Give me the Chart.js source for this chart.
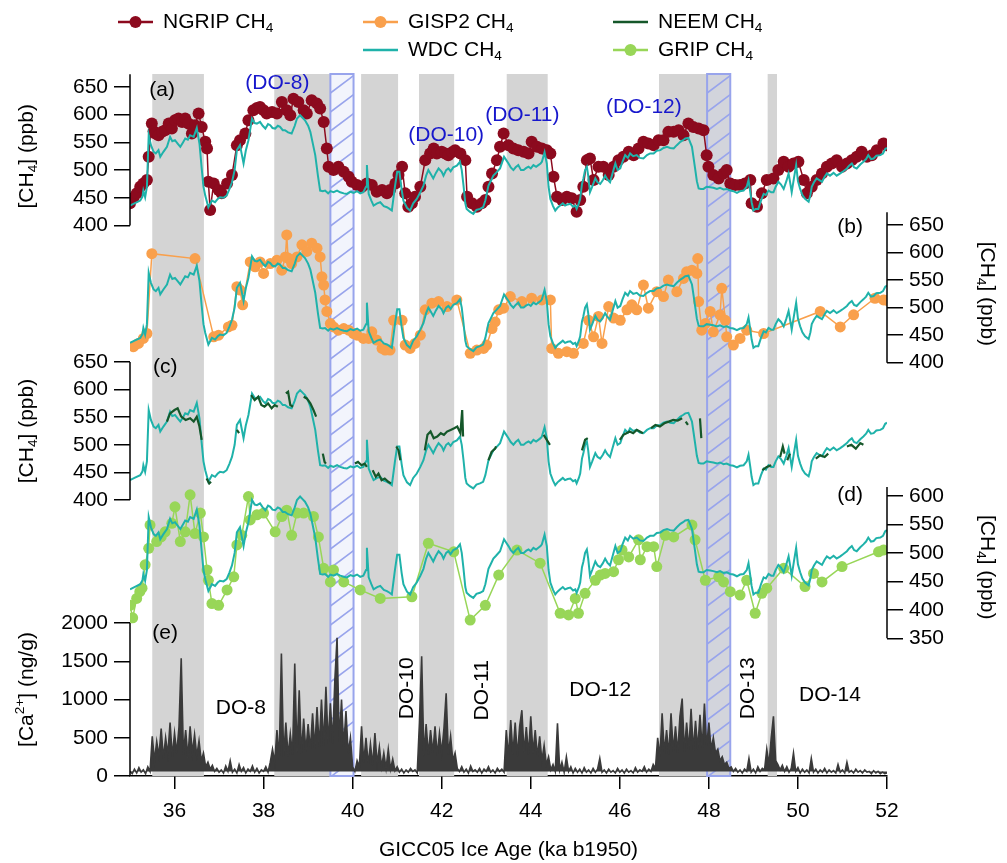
<!DOCTYPE html>
<html>
<head>
<meta charset="utf-8">
<script src="https://cdn.jsdelivr.net/npm/chart.js@4.4.1/dist/chart.umd.min.js"></script>
<style>
  html, body { margin: 0; padding: 0; background: #fff; }
  #wrap { width: 1007px; height: 863px; }
</style>
</head>
<body>
<div id="wrap"><canvas id="myChart"></canvas></div>
<script>
// ---- data (ka b1950 / ppb / ng/g) ----
const xTicks = [36, 38, 40, 42, 44, 46, 48, 50, 52];
const ch4Ticks = [400, 450, 500, 550, 600, 650];
const gripTicks = [350, 400, 450, 500, 550, 600];
const caTicks = [0, 500, 1000, 1500, 2000];

const giBands = [[35.50, 36.66], [38.24, 39.50], [40.19, 41.02], [41.49, 42.28], [43.46, 44.38], [46.88, 48.48], [49.32, 49.53]];
const hatchBands = [[39.50, 40.02], [47.96, 48.48]];

const wdcAge = [35.00,35.10,35.23,35.28,35.30,35.34,35.38,35.42,35.47,35.53,35.58,35.64,35.68,35.75,35.83,35.90,35.95,36.01,36.07,36.13,36.19,36.24,36.30,36.35,36.43,36.50,36.56,36.61,36.65,36.69,36.76,36.84,36.91,36.97,37.02,37.10,37.17,37.23,37.29,37.35,37.40,37.47,37.55,37.60,37.66,37.74,37.80,37.85,37.92,37.98,38.04,38.10,38.15,38.20,38.26,38.32,38.37,38.43,38.48,38.55,38.63,38.70,38.75,38.82,38.88,38.93,39.00,39.05,39.10,39.16,39.22,39.27,39.33,39.38,39.45,39.50,39.57,39.65,39.72,39.80,39.87,39.95,40.02,40.10,40.17,40.24,40.30,40.32,40.36,40.42,40.47,40.55,40.62,40.70,40.77,40.83,40.88,40.95,41.00,41.05,41.10,41.14,41.22,41.29,41.36,41.44,41.52,41.59,41.65,41.70,41.76,41.81,41.87,41.93,42.00,42.04,42.10,42.15,42.20,42.26,42.34,42.41,42.45,42.49,42.53,42.56,42.63,42.71,42.78,42.86,42.93,42.98,43.05,43.10,43.16,43.22,43.31,43.40,43.45,43.50,43.55,43.61,43.66,43.72,43.78,43.84,43.90,43.95,44.00,44.06,44.12,44.17,44.22,44.25,44.31,44.36,44.40,44.44,44.50,44.55,44.60,44.66,44.72,44.77,44.83,44.89,44.95,45.00,45.03,45.08,45.11,45.15,45.18,45.22,45.26,45.29,45.33,45.38,45.45,45.50,45.56,45.62,45.67,45.72,45.78,45.84,45.90,45.95,46.01,46.06,46.12,46.18,46.23,46.30,46.38,46.45,46.53,46.61,46.68,46.76,46.83,46.91,46.98,47.06,47.13,47.21,47.28,47.36,47.42,47.47,47.54,47.58,47.62,47.66,47.69,47.73,47.77,47.82,47.88,47.95,48.03,48.10,48.18,48.25,48.33,48.40,48.48,48.55,48.63,48.70,48.78,48.85,48.89,48.93,48.96,49.00,49.05,49.11,49.17,49.23,49.28,49.34,49.40,49.45,49.50,49.56,49.62,49.68,49.74,49.79,49.83,49.86,49.91,49.96,50.00,50.05,50.10,50.16,50.24,50.28,50.31,50.36,50.42,50.48,50.54,50.60,50.65,50.72,50.80,50.87,50.95,51.02,51.10,51.15,51.21,51.26,51.32,51.40,51.47,51.53,51.58,51.64,51.70,51.76,51.85,51.91,51.96,52.00];
const wdcCh4 = [436,440,445,452,463,451,470,563,545,533,530,536,524,533,542,560,552,554,548,542,550,557,555,563,560,576,548,503,470,454,433,445,442,448,451,450,454,465,478,500,536,545,512,535,554,593,585,584,587,580,575,583,581,576,575,580,578,572,572,568,566,580,593,599,594,590,580,569,550,527,490,463,462,463,458,462,460,463,460,458,457,461,459,462,458,460,470,509,457,445,436,440,442,435,433,430,427,470,497,497,465,445,432,427,440,448,460,472,490,500,492,485,495,503,497,490,500,503,498,505,508,515,500,472,440,430,425,421,428,430,433,445,472,480,490,495,503,524,518,512,505,500,505,509,500,500,504,506,503,509,506,509,512,515,532,512,470,448,435,427,432,436,440,436,438,439,434,436,430,440,448,475,484,500,506,490,460,470,485,478,475,482,490,483,478,495,512,500,503,515,527,522,530,525,527,522,521,527,530,530,535,536,540,542,540,539,545,551,554,557,558,550,542,520,503,480,467,466,466,470,469,468,466,468,465,466,463,462,459,462,463,470,482,460,442,427,430,430,445,457,455,463,460,460,470,479,474,466,480,494,475,460,485,509,480,466,455,448,443,455,470,478,485,482,479,488,494,490,495,490,494,498,503,508,512,505,503,510,515,520,527,520,521,526,527,530,538,540];

const ngripAge = [35.00,35.08,35.15,35.23,35.30,35.38,35.42,35.49,35.53,35.57,35.64,35.72,35.79,35.87,35.94,36.01,36.09,36.17,36.24,36.31,36.39,36.46,36.54,36.61,36.69,36.73,36.76,36.80,36.88,36.99,37.06,37.18,37.29,37.40,37.47,37.59,37.66,37.77,37.85,37.92,38.00,38.07,38.19,38.30,38.41,38.52,38.60,38.67,38.78,38.90,38.97,39.08,39.20,39.27,39.35,39.42,39.46,39.57,39.68,39.80,39.91,39.98,40.10,40.21,40.32,40.43,40.54,40.66,40.77,40.84,40.96,41.03,41.11,41.18,41.25,41.33,41.40,41.52,41.63,41.74,41.82,41.89,42.00,42.08,42.15,42.23,42.30,42.42,42.53,42.57,42.68,42.79,42.90,42.98,43.05,43.13,43.24,43.31,43.39,43.50,43.61,43.72,43.84,43.95,44.02,44.14,44.25,44.36,44.44,44.51,44.59,44.70,44.81,44.92,45.03,45.11,45.18,45.26,45.33,45.41,45.52,45.63,45.75,45.86,45.97,46.08,46.20,46.31,46.42,46.53,46.64,46.76,46.87,46.98,47.09,47.21,47.32,47.43,47.54,47.65,47.77,47.88,47.95,47.99,48.10,48.22,48.33,48.40,48.48,48.59,48.70,48.81,48.93,48.96,49.08,49.19,49.30,49.45,49.56,49.68,49.79,49.90,50.01,50.13,50.20,50.31,50.42,50.54,50.65,50.76,50.87,50.99,51.10,51.21,51.32,51.43,51.55,51.66,51.77,51.92,51.99];
const ngripCh4 = [440,450,458,470,476,482,524,584,570,566,563,569,572,584,575,590,593,587,593,584,566,581,602,578,551,539,479,428,476,464,458,476,491,545,554,566,590,608,612,614,608,602,605,602,623,608,599,629,623,608,602,626,620,611,587,539,506,500,506,497,488,479,473,470,476,473,461,464,458,464,476,491,506,458,434,440,452,470,518,530,539,530,533,530,527,532,536,530,518,452,440,434,440,446,470,494,518,542,566,545,539,536,533,530,551,542,539,536,530,488,452,446,452,449,425,446,470,518,521,482,506,506,491,506,518,524,533,527,539,551,548,545,554,554,569,569,572,563,584,578,575,572,527,506,491,485,494,500,476,473,473,476,482,440,434,458,482,485,500,515,506,512,515,482,458,470,482,494,506,512,518,506,512,518,524,533,524,527,536,548,545];

const gisp2Age = [35.08,35.19,35.30,35.38,35.49,36.46,36.88,36.99,37.21,37.29,37.40,37.47,37.53,37.70,37.81,37.92,38.00,38.15,38.30,38.41,38.49,38.52,38.55,38.63,38.75,38.86,38.97,39.08,39.20,39.27,39.31,39.35,39.38,39.42,39.50,39.57,39.68,39.80,39.91,40.02,40.10,40.24,40.36,40.43,40.54,40.66,40.73,40.84,40.92,41.11,41.18,41.29,41.40,41.52,41.63,41.78,41.93,42.12,42.34,42.64,42.79,42.94,43.01,43.13,43.20,43.28,43.39,43.54,43.80,44.02,44.25,44.44,44.47,44.62,44.81,44.96,45.18,45.30,45.41,45.52,45.60,45.75,45.86,46.01,46.16,46.27,46.38,46.53,46.64,46.83,46.98,47.09,47.28,47.43,47.50,47.62,47.73,47.75,47.77,47.84,47.92,48.03,48.10,48.25,48.29,48.37,48.40,48.55,48.70,48.85,49.23,50.50,50.95,51.25,51.73,51.92,52.00];
const gisp2Ch4 = [429,435,444,453,598,589,447,450,465,468,538,532,505,583,574,583,562,580,586,568,592,632,590,580,592,614,602,617,608,592,556,541,514,493,471,465,459,462,459,453,450,444,444,456,441,426,423,423,477,477,432,426,435,450,496,508,511,502,514,417,423,426,432,462,474,496,499,520,511,517,514,514,426,417,420,417,435,477,447,484,435,502,481,477,496,505,496,541,499,529,520,550,529,553,565,568,562,589,511,459,471,493,456,487,535,477,447,432,444,459,453,493,465,487,517,514,513];

const neemAge = [35.83,35.90,36.00,36.07,36.15,36.25,36.35,36.43,36.50,36.56,36.61,36.66, 36.72,36.78,36.82,36.9, 37.40,37.45,37.5, 37.72,37.80,37.88,37.95,38.02,38.10,38.18,38.25,38.32,38.4, 38.50,38.55,38.60,38.66,38.7, 38.90,38.97,39.05,39.12,39.18,39.25, 39.33,39.37,39.40,39.45, 40.05,40.12,40.20,40.27,40.32,40.38, 40.45,40.52,40.58,40.65,40.72,40.80,40.86,40.92, 40.98,41.03,41.07,41.3, 41.62,41.68,41.75,41.82,41.90,41.98,42.05,42.12,42.20,42.28,42.35,42.42,42.46,42.48,42.6, 43.05,43.12,43.20,43.22,43.3, 44.29,44.36,44.43,44.5, 45.15,45.22,45.28,45.5, 46.00,46.08,46.15,46.22,46.30,46.38,46.45,46.52,46.6, 46.70,46.80,46.90,47.00,47.10,47.20,47.30,47.40,47.44, 47.48,47.53,47.6, 47.80,47.83,48.0, 49.20,49.30,49.40,49.5, 49.60,49.66,49.70,49.73, 49.76,49.82,50.0, 50.40,50.50,50.60,50.68,50.9, 51.10,51.20,51.30,51.40,51.47];
const neemCh4 = [542,557,563,566,551,545,548,542,551,533,509,null, 439,430,433,null, 527,521,null, 590,581,587,572,569,575,566,572,569,null, 593,596,572,569,null, 587,584,575,563,551,null, 484,469,466,null, 466,469,463,466,460,null, 454,442,448,436,439,433,430,null, 497,490,472,null, 490,518,524,512,515,521,518,524,527,530,533,521,563,515,null, 472,487,493,497,null, 518,509,500,null, 490,509,512,null, 509,518,521,524,521,527,524,521,null, 530,536,533,539,542,545,544,548,null, 542,536,null, 548,512,null, 454,460,463,null, 478,497,484,null, 472,484,null, 475,481,478,484,null, 497,500,493,503,500];

const gripAge = [35.00,35.06,35.15,35.22,35.27,35.34,35.42,35.45,35.60,35.70,35.79,35.94,36.01,36.13,36.24,36.35,36.46,36.58,36.65,36.73,36.76,36.84,36.99,37.18,37.33,37.40,37.51,37.66,37.70,37.85,38.00,38.26,38.41,38.52,38.63,38.75,38.90,39.12,39.23,39.35,39.50,39.57,39.80,40.17,40.62,41.33,41.70,42.27,42.64,42.98,43.28,43.69,44.21,44.66,44.85,45.00,45.07,45.22,45.45,45.56,45.67,45.86,45.97,46.05,46.20,46.42,46.46,46.61,46.76,46.83,47.02,47.21,47.62,47.69,47.92,48.22,48.33,48.48,48.70,48.85,49.04,49.19,49.30,49.68,50.16,50.35,50.54,50.99,51.81,51.92];
const gripCh4 = [408,386,420,432,438,479,508,549,520,528,537,552,581,520,537,602,534,570,528,470,452,411,408,435,458,514,531,599,558,567,570,537,564,575,531,570,570,564,528,473,449,470,449,435,420,423,517,502,382,408,461,505,482,394,391,420,394,429,452,461,464,467,488,505,493,523,488,511,511,476,531,528,549,523,452,458,449,432,426,452,394,429,438,473,441,464,449,476,502,505];

// Ca2+ every 0.05 ka from 35.00 ka, one row per ka
const caStartAge = 35.0;
const caStep = 0.05;
const caValues = [
  60,30,90,40,110,50,80,30,120,60, 520,200,450,260,620,230,500,280,700,250,
  560,300,640,1540,280,600,240,650,300,540, 260,460,200,300,120,180,90,140,60,100,
  50,80,40,130,60,200,50,90,40,150, 60,110,40,90,60,130,50,100,40,80,
  60,120,50,180,350,180,600,220,1600,250, 700,260,550,280,1470,300,1120,290,750,320,
  680,340,820,360,900,380,1000,400,1165,420, 950,430,1250,1808,450,1000,380,850,300,500,
  120,60,200,120,650,180,500,150,420,140, 560,160,380,120,300,100,350,90,220,70,
  120,50,90,40,80,50,100,60,80,40, 700,1565,260,680,280,600,300,650,270,560,
  300,620,1080,280,520,200,300,100,60,120, 50,90,40,130,60,80,50,100,40,90,
  60,120,50,80,40,100,60,90,50,600, 250,730,280,700,260,650,860,300,640,280,
  780,300,600,250,520,200,400,150,250,80, 150,60,690,80,180,50,250,60,120,40,
  100,50,90,40,110,50,80,40,100,50, 90,230,50,80,40,90,50,70,40,100,
  50,80,40,90,50,70,40,110,50,80, 60,120,50,90,60,150,100,500,250,820,
  300,600,280,820,320,650,300,780,1013,320, 700,340,880,330,720,350,800,360,948,380,
  700,350,500,300,350,200,250,150,180,100, 120,60,100,50,80,40,90,60,230,50,
  90,40,120,60,100,80,350,150,500,780, 200,150,80,140,60,120,50,100,300,60,
  110,40,90,50,80,40,230,50,90,40, 80,50,100,40,80,50,70,40,150,50,
  80,40,180,50,70,40,90,50,70,40, 80,50,60,30,70,40,60,30,50,30,
  40
];

const doBlueText = ['(DO-8)', '(DO-10)', '(DO-11)', '(DO-12)'];
const doBlueAge = [38.31, 42.10, 43.81, 46.54];
const doBlueCh4 = [657, 563, 599, 614];

const doCaText = ['DO-8', 'DO-10', 'DO-11', 'DO-12', 'DO-13', 'DO-14'];
const doCaAge = [37.49, 41.22, 42.90, 45.56, 48.89, 50.72];
const doCaLevel = [887, 1147, 1121, 1121, 1147, 1056];
const doCaUpright = [true, false, false, true, false, true];

// ---- look ----
const FONT = "'Liberation Sans', Arial, Helvetica, sans-serif";
const FS = 21;
const C = {
  wdc: '#1fb2aa', ngrip: '#8c0a1e', gisp2: '#f9a04c', neem: '#15572a',
  grip: '#98d658', ca: '#3a3a3a', band: '#d4d4d4', hatch: '#98a4ec', blue: '#1717cc'
};

// pixel anchors of each panel inside the 74..776 plotting strip
const AREA_TOP = 74, AREA_BOTTOM = 776;
const panels = {
  ya: { pos: 'left',  lo: [400, 225.5], hi: [650, 87],  ticks: ch4Ticks,  spine: [400, 673] },
  yb: { pos: 'right', lo: [400, 362.7], hi: [650, 225], ticks: ch4Ticks,  spine: [400, 673] },
  yc: { pos: 'left',  lo: [400, 500],   hi: [650, 362], ticks: ch4Ticks,  spine: [400, 650] },
  yd: { pos: 'right', lo: [350, 638.3], hi: [600, 496], ticks: gripTicks, spine: [350, 616] },
  ye: { pos: 'left',  lo: [0, 776],     hi: [2000, 623], ticks: caTicks,  spine: [0, 2000] }
};

function pts(xs, ys) { return xs.map((x, i) => ({ x: x, y: ys[i] })); }
const caAge = caValues.map((v, i) => +(caStartAge + i * caStep).toFixed(2));

const scales = {
  x: {
    type: 'linear', position: 'bottom', min: 35, max: 52,
    afterBuildTicks: s => { s.ticks = xTicks.map(v => ({ value: v })); },
    afterFit: s => { s.height = 863 - AREA_BOTTOM; },
    border: { display: true, color: '#000', width: 1.5 },
    grid: { drawOnChartArea: false, drawTicks: true, tickLength: 13, color: '#000', lineWidth: 1.5 },
    ticks: { color: '#000', font: { size: FS }, padding: 10, autoSkip: false, maxRotation: 0, callback: v => String(v) },
    title: { display: true, text: 'GICC05 Ice Age (ka b1950)', color: '#000', font: { size: FS }, padding: { top: 0, bottom: 0 } }
  }
};
for (const id in panels) {
  const p = panels[id];
  const s = (p.lo[1] - p.hi[1]) / (p.hi[0] - p.lo[0]);
  scales[id] = {
    type: 'linear', position: p.pos,
    min: p.lo[0] - (AREA_BOTTOM - p.lo[1]) / s,
    max: p.lo[0] + (p.lo[1] - AREA_TOP) / s,
    afterBuildTicks: sc => { sc.ticks = p.ticks.map(v => ({ value: v })); },
    afterFit: sc => { sc.width = 0; },
    border: { display: false },
    grid: { drawOnChartArea: false, drawTicks: true, tickLength: 16, color: '#000', lineWidth: 1.5 },
    ticks: { color: '#000', font: { size: FS }, padding: 6, autoSkip: false, callback: v => String(v) }
  };
}

function ds(label, axis, data, color, order, extra) {
  return Object.assign({
    label: label, yAxisID: axis, data: data, order: order,
    borderColor: color, backgroundColor: color, borderWidth: 2,
    pointRadius: 0, pointBorderWidth: 0, tension: 0, spanGaps: false
  }, extra || {});
}
const dots = { pointRadius: 6, borderWidth: 1.5 };

const datasets = [
  ds('WDC CH4', 'ya', pts(wdcAge, wdcCh4), C.wdc, 1),
  ds('NGRIP CH4', 'ya', pts(ngripAge, ngripCh4), C.ngrip, 2, dots),
  ds('WDC CH4 b', 'yb', pts(wdcAge, wdcCh4), C.wdc, 1),
  ds('GISP2 CH4', 'yb', pts(gisp2Age, gisp2Ch4), C.gisp2, 2, { pointRadius: 5.5, borderWidth: 1.5 }),
  ds('NEEM CH4', 'yc', pts(neemAge, neemCh4), C.neem, 0, { borderWidth: 2.2 }),
  ds('WDC CH4 c', 'yc', pts(wdcAge, wdcCh4), C.wdc, 1),
  ds('WDC CH4 d', 'yd', pts(wdcAge, wdcCh4), C.wdc, 1),
  ds('GRIP CH4', 'yd', pts(gripAge, gripCh4), C.grip, 2, { pointRadius: 5.5, borderWidth: 1.5 }),
  ds('Ca2+', 'ye', pts(caAge, caValues), C.ca, 3, { borderWidth: 1.6, fill: { value: 60 } })
];

// ---- text helpers ----
function partsWidth(ctx, parts, size) {
  let w = 0;
  for (const p of parts) {
    ctx.font = (p.s ? size * 0.65 : size) + 'px ' + FONT;
    w += ctx.measureText(p.t).width;
  }
  return w;
}
function drawParts(ctx, parts, x, y, size, align) {
  const w = partsWidth(ctx, parts, size);
  let cx = align === 'center' ? x - w / 2 : (align === 'right' ? x - w : x);
  ctx.textAlign = 'left';
  ctx.textBaseline = 'middle';
  for (const p of parts) {
    const sz = p.s ? size * 0.65 : size;
    ctx.font = sz + 'px ' + FONT;
    const dy = p.s === 'sub' ? size * 0.32 : (p.s === 'sup' ? -size * 0.3 : 0);
    ctx.fillText(p.t, cx, y + dy);
    cx += ctx.measureText(p.t).width;
  }
}
const ch4Title = [{ t: '[CH' }, { t: '4', s: 'sub' }, { t: '] (ppb)' }];
const caTitle = [{ t: '[Ca' }, { t: '2+', s: 'sup' }, { t: '] (ng/g)' }];
const ch4Name = name => [{ t: name + ' CH' }, { t: '4', s: 'sub' }];

const legendItems = [
  { name: 'NGRIP', color: C.ngrip, dot: true, x: 118, y: 22 },
  { name: 'GISP2', color: C.gisp2, dot: true, x: 363, y: 22 },
  { name: 'NEEM', color: C.neem, dot: false, x: 613, y: 22 },
  { name: 'WDC', color: C.wdc, dot: false, x: 363, y: 50 },
  { name: 'GRIP', color: C.grip, dot: true, x: 613, y: 50 }
];

const panelLetters = [
  { t: '(a)', axis: 'ya', age: 35.72, v: 645 },
  { t: '(b)', axis: 'yb', age: 51.17, v: 646 },
  { t: '(c)', axis: 'yc', age: 35.79, v: 641 },
  { t: '(d)', axis: 'yd', age: 51.17, v: 602 },
  { t: '(e)', axis: 'ye', age: 35.79, v: 1864 }
];

function drawHatch(ctx, x0, x1, top, bottom) {
  const w = x1 - x0;
  ctx.save();
  ctx.beginPath();
  ctx.rect(x0, top, w, bottom - top);
  ctx.clip();
  ctx.fillStyle = 'rgba(205,210,245,0.25)';
  ctx.fillRect(x0, top, w, bottom - top);
  ctx.strokeStyle = C.hatch;
  ctx.lineWidth = 1.6;
  const rise = w * 0.75;
  for (let y = top; y < bottom + rise + 20; y += 19) {
    ctx.beginPath();
    ctx.moveTo(x0, y);
    ctx.lineTo(x1, y - rise);
    ctx.stroke();
  }
  ctx.restore();
  ctx.save();
  ctx.strokeStyle = C.hatch;
  ctx.lineWidth = 2;
  ctx.strokeRect(x0, top, w, bottom - top);
  ctx.restore();
}

const decor = {
  id: 'decor',
  // y scales take no room in the layout; widen their boxes afterwards so labels are not clipped
  afterLayout(chart) {
    for (const id in panels) {
      const sc = chart.scales[id];
      if (panels[id].pos === 'left') sc.left = sc.right - 125;
      else sc.right = sc.left + 125;
      sc.width = 125;
    }
  },
  beforeDatasetsDraw(chart) {
    const { ctx, chartArea: a, scales: { x } } = chart;
    ctx.save();
    ctx.fillStyle = C.band;
    for (const [s, e] of giBands) {
      const x0 = x.getPixelForValue(s), x1 = x.getPixelForValue(e);
      ctx.fillRect(x0, a.top, x1 - x0, a.bottom - a.top);
    }
    ctx.restore();
    for (const [s, e] of hatchBands) {
      drawHatch(ctx, x.getPixelForValue(s), x.getPixelForValue(e), a.top, a.bottom);
    }
  },
  afterDraw(chart) {
    const { ctx, chartArea: a, scales } = chart;
    const x = scales.x;
    ctx.save();
    // partial y spines
    ctx.strokeStyle = '#000';
    ctx.lineWidth = 1.5;
    for (const id in panels) {
      const p = panels[id], sc = scales[id];
      const px = p.pos === 'left' ? a.left : a.right;
      ctx.beginPath();
      ctx.moveTo(px, sc.getPixelForValue(p.spine[0]));
      ctx.lineTo(px, sc.getPixelForValue(p.spine[1]));
      ctx.stroke();
    }
    // y titles
    ctx.fillStyle = '#000';
    const titles = [
      { axis: 'ya', parts: ch4Title, side: -1 },
      { axis: 'yc', parts: ch4Title, side: -1 },
      { axis: 'ye', parts: caTitle, side: -1, shift: -10 },
      { axis: 'yb', parts: ch4Title, side: 1 },
      { axis: 'yd', parts: ch4Title, side: 1 }
    ];
    for (const t of titles) {
      const p = panels[t.axis], sc = scales[t.axis];
      const cy = (sc.getPixelForValue(p.ticks[0]) + sc.getPixelForValue(p.ticks[p.ticks.length - 1])) / 2 + (t.shift || 0);
      const cx = t.side < 0 ? a.left - 103 : a.right + 100;
      ctx.save();
      ctx.translate(cx, cy);
      ctx.rotate(t.side < 0 ? -Math.PI / 2 : Math.PI / 2);
      drawParts(ctx, t.parts, 0, 0, FS, 'center');
      ctx.restore();
    }
    // panel letters
    ctx.font = FS + 'px ' + FONT;
    ctx.textAlign = 'center';
    ctx.textBaseline = 'middle';
    for (const l of panelLetters) {
      ctx.fillText(l.t, x.getPixelForValue(l.age), scales[l.axis].getPixelForValue(l.v));
    }
    // DO labels above NGRIP
    ctx.fillStyle = C.blue;
    doBlueText.forEach((t, i) => {
      ctx.fillText(t, x.getPixelForValue(doBlueAge[i]), scales.ya.getPixelForValue(doBlueCh4[i]));
    });
    // DO labels in Ca panel
    ctx.fillStyle = '#000';
    doCaText.forEach((t, i) => {
      const px = x.getPixelForValue(doCaAge[i]), py = scales.ye.getPixelForValue(doCaLevel[i]);
      if (doCaUpright[i]) {
        ctx.fillText(t, px, py);
      } else {
        ctx.save();
        ctx.translate(px, py);
        ctx.rotate(-Math.PI / 2);
        ctx.fillText(t, 0, 0);
        ctx.restore();
      }
    });
    // legend
    for (const it of legendItems) {
      ctx.strokeStyle = it.color;
      ctx.lineWidth = 2.5;
      ctx.beginPath();
      ctx.moveTo(it.x, it.y);
      ctx.lineTo(it.x + 35, it.y);
      ctx.stroke();
      if (it.dot) {
        ctx.fillStyle = it.color;
        ctx.beginPath();
        ctx.arc(it.x + 17.5, it.y, 6, 0, Math.PI * 2);
        ctx.fill();
      }
      ctx.fillStyle = '#000';
      drawParts(ctx, ch4Name(it.name), it.x + 45, it.y, FS, 'left');
    }
    ctx.restore();
  }
};

Chart.defaults.font.family = FONT;
Chart.defaults.color = '#000';

new Chart(document.getElementById('myChart'), {
  type: 'line',
  data: { datasets: datasets },
  options: {
    responsive: true,
    maintainAspectRatio: false,
    animation: false,
    events: [],
    layout: { padding: { left: 130, right: 120, top: AREA_TOP, bottom: 0 } },
    scales: scales,
    plugins: { legend: { display: false }, tooltip: { enabled: false }, filler: { propagate: false } }
  },
  plugins: [decor]
});
</script>
</body>
</html>
